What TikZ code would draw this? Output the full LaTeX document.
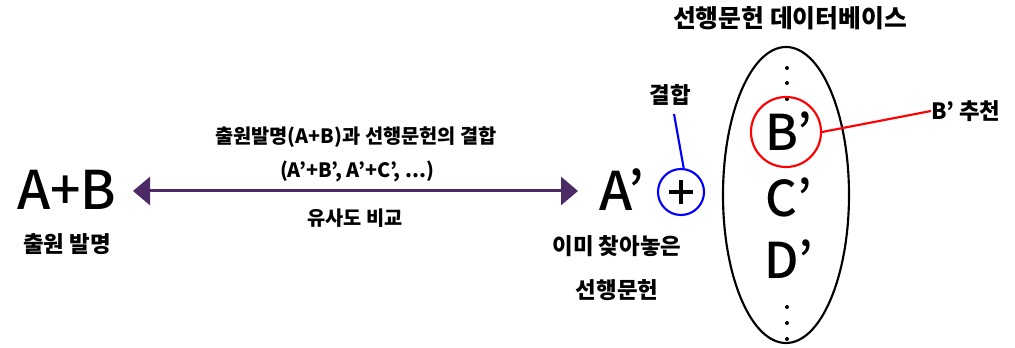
\documentclass[tikz,border=0pt]{standalone}
\usepackage{fontspec}
\setmainfont{Noto Sans CJK KR}
\newfontfamily\medfont{Noto Sans CJK KR}[UprightFont=* Medium]
\usetikzlibrary{arrows.meta,shapes.geometric}
\definecolor{arrowpurple}{HTML}{4B2A66}
\definecolor{ringblue}{HTML}{0000FF}
\definecolor{ringred}{HTML}{FF0000}
\tikzset{
  bigletter/.style={inner sep=0pt, font=\medfont\fontsize{40}{42}\selectfont},
  dbletter/.style={inner sep=0pt, font=\medfont\fontsize{37}{40}\selectfont},
  label/.style={inner sep=0pt, font=\bfseries\fontsize{16.8}{19}\selectfont},
  midlabel/.style={inner sep=0pt, font=\bfseries\fontsize{14.8}{17}\selectfont},
  titlelabel/.style={inner sep=0pt, font=\bfseries\fontsize{18.6}{21}\selectfont},
  dotnode/.style={circle, fill=black, inner sep=0pt, minimum size=3pt},
}
\begin{document}
\begin{tikzpicture}[x=0.75pt,y=-0.75pt]
\useasboundingbox (0,0) rectangle (1015,348);
% left
\node[bigletter] (ab) at (67,190) {A+B};
\node[label] (abl) at (67,244) {출원 발명};
% arrow labels
\node[midlabel] (t1) at (356,137) {출원발명(A+B)과 선행문헌의 결합};
\node[midlabel] (t2) at (357,171) {(A’+B’, A’+C’, ...)};
\node[midlabel] (t3) at (355,218) {유사도 비교};
% A'
\node[bigletter] (ap) at (622,190) {A’};
\node[label] (apl1) at (617,246) {이미 찾아놓은};
\node[label] (apl2) at (617,290) {선행문헌};
\coordinate (al) at (133,191);
\coordinate (ar) at (578,191);
\draw[arrowpurple, line width=2.25pt, {Triangle[length=12.75pt,width=21pt]}-{Triangle[length=12.75pt,width=21pt]}] (al) -- (ar);
% plus circle
\node[circle, draw=ringblue, line width=1.6pt, minimum size=34.5pt, inner sep=0pt] (plus) at (681,192) {};
\draw[line width=3pt] ([xshift=-9pt]plus.center) -- ([xshift=9pt]plus.center);
\draw[line width=3pt] ([yshift=-9pt]plus.center) -- ([yshift=9pt]plus.center);
\node[label] (gyeol) at (670,95) {결합};
\coordinate (gl) at (674,114);
\draw[ringblue, line width=1.6pt] ([xshift=2pt]plus.north) -- (gl);
% database
\node[titlelabel] (dbl) at (790,18) {선행문헌 데이터베이스};
\node[ellipse, draw, line width=1.6pt, minimum width=94.5pt, minimum height=222pt, inner sep=0pt] (db) at (786,195) {};
\node[dotnode] (d1) at (787,68) {};
\node[dotnode] (d2) at (787,83) {};
\node[dotnode] (d3) at (787,99) {};
\node[dotnode] (d4) at (787,307) {};
\node[dotnode] (d5) at (787,323) {};
\node[dotnode] (d6) at (787,339) {};
\node[dbletter] (bp) at (789,131) {B’};
\node[dbletter] (cp) at (789,197) {C’};
\node[dbletter] (dp) at (789,259) {D’};
\node[circle, draw=ringred, line width=1.6pt, minimum size=52.5pt, inner sep=0pt] (rc) at (786,132) {};
\node[label, anchor=west] (rec) at (931,111) {B’ 추천};
\draw[ringred, line width=1.6pt] (rc.east) -- (rec.west);
\end{tikzpicture}
\end{document}
